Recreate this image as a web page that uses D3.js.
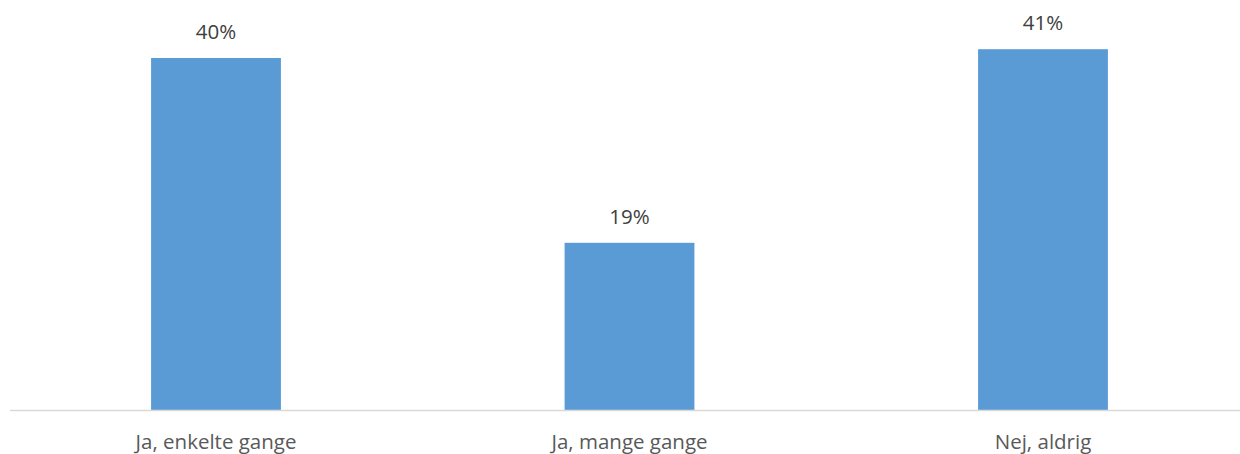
<!DOCTYPE html>
<html>
<head>
<meta charset="utf-8">
<script src="https://cdn.jsdelivr.net/npm/d3@7"></script>
<style>
  body { margin: 0; background: #fff; }
</style>
</head>
<body>
<div class="chart"></div>
<script>
// Données
const categories = ["Ja, enkelte gange", "Ja, mange gange", "Nej, aldrig"];
const values = [40, 19, 41];
const valueLabels = ["40%", "19%", "41%"];

const width = 1240;
const height = 454;
const baseline = 410;

const data = categories.map((c, i) => ({ cat: c, val: values[i], label: valueLabels[i] }));

const svg = d3.select(".chart")
  .append("svg")
  .attr("width", width)
  .attr("height", height)
  .style("font-family", "'Open Sans', sans-serif");

// Echelles
const x = d3.scaleBand()
  .domain(categories)
  .range([9.25, 1249.75])
  .paddingInner(0.686)
  .paddingOuter(0.343);

const y = d3.scaleLinear()
  .domain([0, 45])
  .range([baseline, baseline - 45 * 8.8]);

// Barres
svg.append("g")
  .selectAll("rect")
  .data(data)
  .join("rect")
  .attr("x", d => x(d.cat))
  .attr("y", d => y(d.val))
  .attr("width", x.bandwidth())
  .attr("height", d => y(0) - y(d.val))
  .attr("fill", "#5B9BD5");

// Axe horizontal
svg.append("g")
  .attr("transform", `translate(0, ${baseline})`)
  .call(d3.axisBottom(x).tickSize(0).tickPadding(24))
  .call(g => g.select(".domain").attr("stroke", "#D9D9D9").attr("stroke-width", 1.5)
    .attr("d", "M10,0.5H1240"))
  .call(g => g.selectAll("text")
    .attr("fill", "#595959")
    .style("font-size", "20.5px")
    .style("font-family", "'Open Sans', sans-serif"));

// Etiquettes de valeurs
svg.append("g")
  .selectAll("text")
  .data(data)
  .join("text")
  .attr("x", d => x(d.cat) + x.bandwidth() / 2)
  .attr("y", d => y(d.val) - 19)
  .attr("text-anchor", "middle")
  .attr("fill", "#404040")
  .style("font-size", "20.5px")
  .text(d => d.label);
</script>
</body>
</html>
